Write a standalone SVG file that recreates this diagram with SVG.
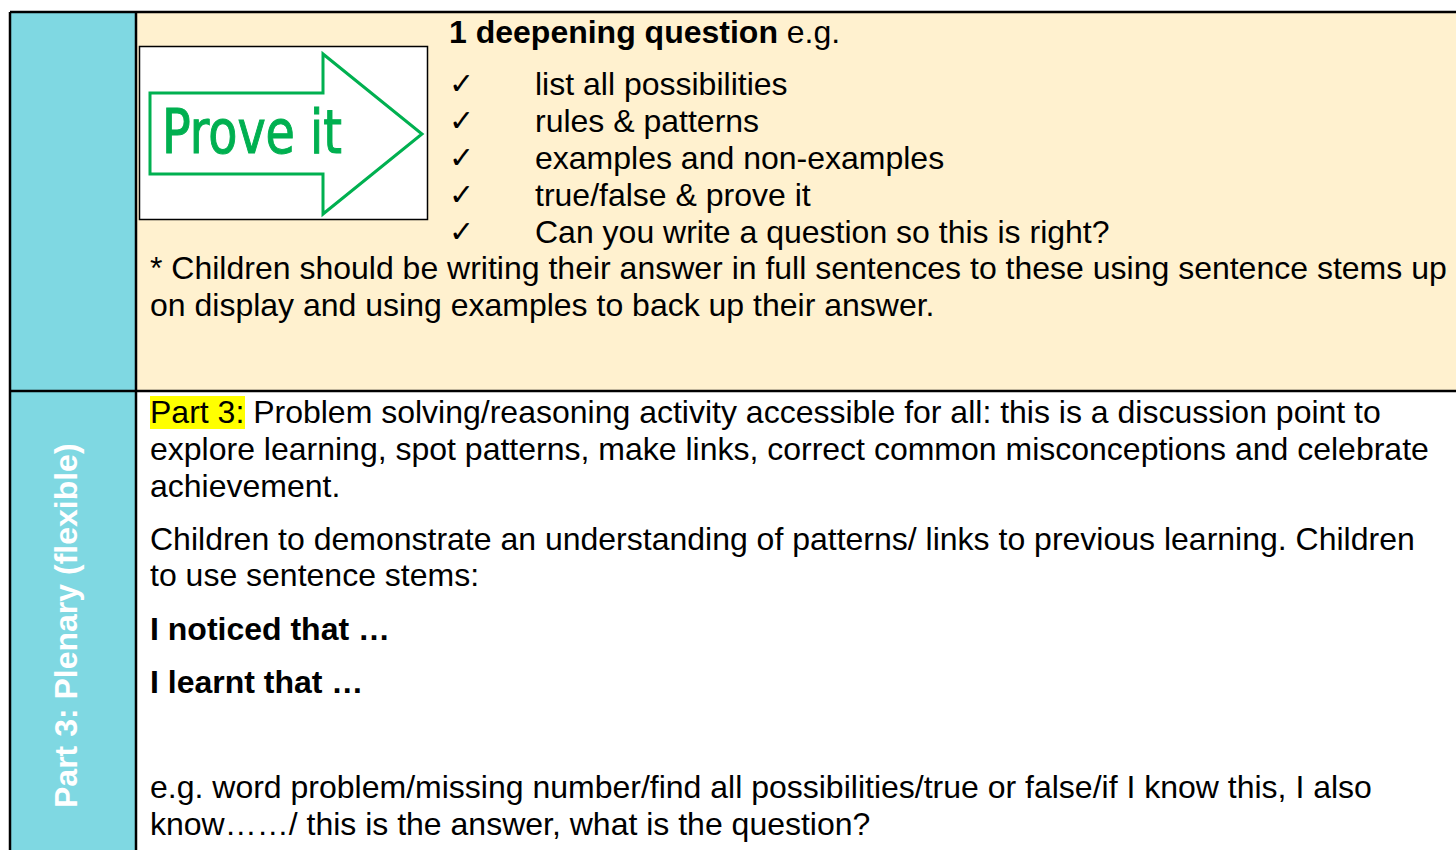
<svg xmlns="http://www.w3.org/2000/svg" width="1456" height="850" viewBox="0 0 1456 850">
<style>
.t{font-family:"Liberation Sans",Arial,sans-serif;font-size:32px;fill:#000}
.b{font-weight:bold}
.ck{font-family:"DejaVu Sans",sans-serif;font-size:30px;fill:#000}
</style>
<rect width="1456" height="850" fill="#fff"/>
<g id="table">
<rect x="11" y="13" width="125" height="837" fill="#7fd8e2"/>
<rect x="136" y="13" width="1320" height="378" fill="#fff1cf"/>
<rect x="136" y="391" width="1320" height="459" fill="#fff"/>
<path d="M10 12H1456M10 12V850M136 12V850M10 391H1456" stroke="#000" stroke-width="2.5" fill="none"/>
</g>
<g id="sidebar">
<text class="t b" transform="translate(77,808) rotate(-90)" style="fill:#fff">Part 3: Plenary (flexible)</text>
</g>
<g id="prove-it">
<rect x="139.5" y="46.5" width="288" height="173" fill="#fff" stroke="#000" stroke-width="1.5"/>
<path d="M150 93H323V54L422 134L323 214V174H150Z" fill="#fff" stroke="#00b050" stroke-width="3"/>
<text x="162" y="153" font-family="DejaVu Sans Condensed, DejaVu Sans, sans-serif" font-stretch="condensed" font-size="60" fill="#00b050" stroke="#00b050" stroke-width="1" textLength="180" lengthAdjust="spacingAndGlyphs">Prove it</text>
</g>
<g id="upper-text">
<text class="t" x="449" y="43"><tspan class="b">1 deepening question</tspan> e.g.</text>
<text class="ck" x="449" y="94">✓</text>
<text class="ck" x="449" y="131">✓</text>
<text class="ck" x="449" y="168">✓</text>
<text class="ck" x="449" y="205">✓</text>
<text class="ck" x="449" y="242">✓</text>
<text class="t" x="535" y="95">list all possibilities</text>
<text class="t" x="535" y="132">rules &amp; patterns</text>
<text class="t" x="535" y="169">examples and non-examples</text>
<text class="t" x="535" y="206">true/false &amp; prove it</text>
<text class="t" x="535" y="243">Can you write a question so this is right?</text>
<text class="t" x="150" y="279">* Children should be writing their answer in full sentences to these using sentence stems up</text>
<text class="t" x="150" y="316">on display and using examples to back up their answer.</text>
</g>
<g id="lower-text">
<rect x="150" y="396" width="95" height="33" fill="#ffff00"/>
<text class="t" x="150" y="423">Part 3: Problem solving/reasoning activity accessible for all: this is a discussion point to</text>
<text class="t" x="150" y="460">explore learning, spot patterns, make links, correct common misconceptions and celebrate</text>
<text class="t" x="150" y="497">achievement.</text>
<text class="t" x="150" y="550">Children to demonstrate an understanding of patterns/ links to previous learning. Children</text>
<text class="t" x="150" y="586">to use sentence stems:</text>
<text class="t b" x="150" y="640">I noticed that …</text>
<text class="t b" x="150" y="693">I learnt that …</text>
<text class="t" x="150" y="798">e.g. word problem/missing number/find all possibilities/true or false/if I know this, I also</text>
<text class="t" x="150" y="835">know……/ this is the answer, what is the question?</text>
</g>
</svg>
